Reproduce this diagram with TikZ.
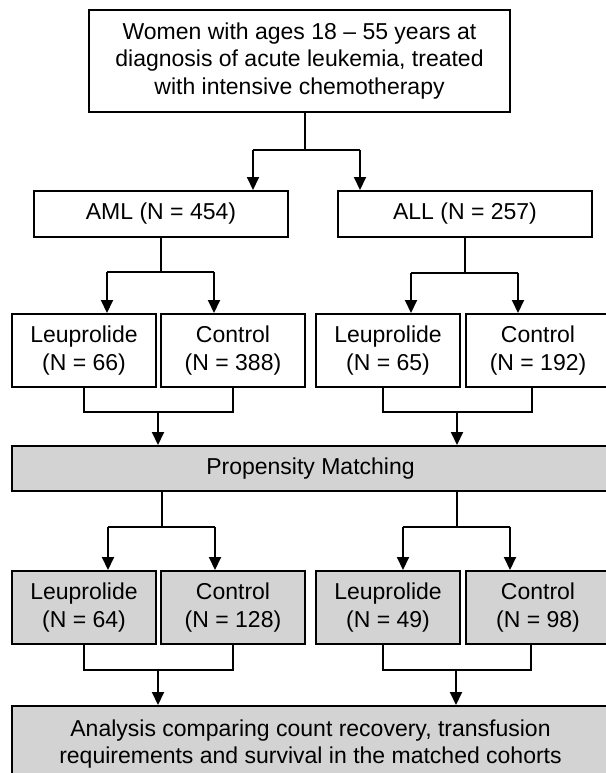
\documentclass[tikz,border=0pt]{standalone}
\usepackage{fontspec}
\setmainfont{Liberation Sans}
\usetikzlibrary{arrows.meta,calc}
\definecolor{matchgray}{RGB}{211,211,211}
\tikzset{box/.style={draw=black,line width=2pt,fill=white,inner sep=0pt,align=center,font=\fontsize{23}{27.6}\selectfont}}
\tikzset{armbox/.style={box,minimum width=144pt,minimum height=73pt}}
\tikzset{matched/.style={fill=matchgray}}
\tikzset{conn/.style={line width=2pt}}
\tikzset{tri/.style={conn,-{Triangle[width=12pt,length=13pt]}}}

\begin{document}
\begin{tikzpicture}[x=1pt,y=-1pt]
\path[use as bounding box,fill=white] (0,0) rectangle (605,773);
\node (women) at (299.5,61) [box,minimum width=421pt,minimum height=102pt] {Women with ages 18 -- 55 years at\\diagnosis of acute leukemia, treated\\with intensive chemotherapy};
\node (aml) at (161,214) [box,minimum width=254pt,minimum height=46pt] {AML (N = 454)};
\node (all) at (465,214) [box,minimum width=254pt,minimum height=46pt] {ALL (N = 257)};
\node (amlleu) at (84,350.5) [armbox] {Leuprolide\\(N = 66)};
\node (amlcon) at (233,350.5) [armbox] {Control\\(N = 388)};
\node (allleu) at (388,350.5) [armbox] {Leuprolide\\(N = 65)};
\node (allcon) at (538,350.5) [armbox] {Control\\(N = 192)};
\node (prop) at (310.5,468.5) [box,matched,minimum width=597pt,minimum height=45pt] {Propensity Matching};
\node (mamlleu) at (84,607.5) [armbox,matched] {Leuprolide\\(N = 64)};
\node (mamlcon) at (233,607.5) [armbox,matched] {Control\\(N = 128)};
\node (malleu) at (388,607.5) [armbox,matched] {Leuprolide\\(N = 49)};
\node (mallcon) at (538,607.5) [armbox,matched] {Control\\(N = 98)};
\node (analysis) at (310.5,744) [box,matched,minimum width=597pt,minimum height=76pt] {Analysis comparing count recovery, transfusion\\requirements and survival in the matched cohorts};
% splits
\coordinate (s0) at (305,150);
\coordinate (s0l) at (253,150);
\coordinate (s0r) at (360,150);
\draw[conn] (women.south -| s0)--(s0) (s0l)--(s0r);
\draw[tri] (s0l)--(s0l |- aml.north);
\draw[tri] (s0r)--(s0r |- all.north);
\coordinate (s1l) at (107,272);
\coordinate (s1r) at (214,272);
\draw[conn] (aml.south)--(aml.south |- s1l) (s1l)--(s1r);
\draw[tri] (s1l)--(s1l |- amlleu.north);
\draw[tri] (s1r)--(s1r |- amlcon.north);
\coordinate (s2l) at (411,273);
\coordinate (s2r) at (518,273);
\draw[conn] (all.south)--(all.south |- s2l) (s2l)--(s2r);
\draw[tri] (s2l)--(s2l |- allleu.north);
\draw[tri] (s2r)--(s2r |- allcon.north);
% merges into matching
\coordinate (m1) at (158,412);
\draw[conn] (amlleu.south)|-(amlcon.south |- m1)--(amlcon.south);
\draw[tri] (m1)--(m1 |- prop.north);
\coordinate (m2) at (457,412);
\coordinate (m2l) at (383,412);
\coordinate (m2r) at (532,412);
\draw[conn] (allleu.south -| m2l)--(m2l)--(m2r)--(allcon.south -| m2r);
\draw[tri] (m2)--(m2 |- prop.north);
% matched cohorts
\coordinate (s3) at (162,527);
\coordinate (s3l) at (108,527);
\coordinate (s3r) at (215,527);
\draw[conn] (prop.south -| s3)--(s3) (s3l)--(s3r);
\draw[tri] (s3l)--(s3l |- mamlleu.north);
\draw[tri] (s3r)--(s3r |- mamlcon.north);
\coordinate (s4) at (457,527);
\coordinate (s4l) at (403,527);
\coordinate (s4r) at (510,527);
\draw[conn] (prop.south -| s4)--(s4) (s4l)--(s4r);
\draw[tri] (s4l)--(s4l |- malleu.north);
\draw[tri] (s4r)--(s4r |- mallcon.north);
% merges into analysis
\coordinate (m3) at (158,670);
\draw[conn] (mamlleu.south)|-(mamlcon.south |- m3)--(mamlcon.south);
\draw[tri] (m3)--(m3 |- analysis.north);
\coordinate (m4) at (456,670);
\coordinate (m4l) at (383,670);
\coordinate (m4r) at (531,670);
\draw[conn] (malleu.south -| m4l)--(m4l)--(m4r)--(mallcon.south -| m4r);
\draw[tri] (m4)--(m4 |- analysis.north);
\end{tikzpicture}
\end{document}
